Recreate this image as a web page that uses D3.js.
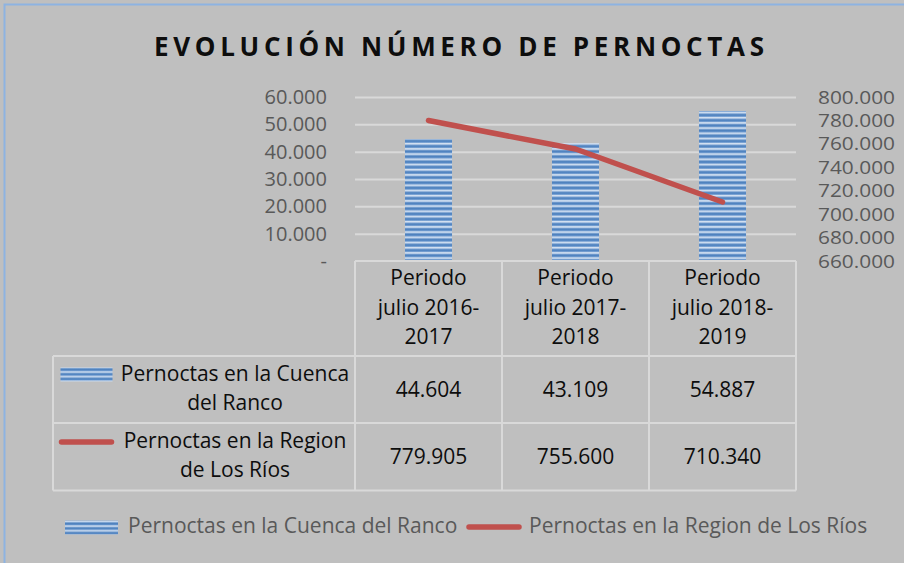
<!DOCTYPE html>
<html>
<head>
<meta charset="utf-8">
<script src="https://cdn.jsdelivr.net/npm/d3@7"></script>
<style>
  html, body { margin: 0; padding: 0; background: #bfbfbf; }
  svg { display: block; font-family: "Open Sans", "Noto Sans", sans-serif; }
</style>
</head>
<body>
<svg id="chart" width="904" height="563"></svg>
<script>
// chart data
const periods = [
  ['Periodo', 'julio 2016-', '2017'],
  ['Periodo', 'julio 2017-', '2018'],
  ['Periodo', 'julio 2018-', '2019']
];
const cuenca = [44604, 43109, 54887];
const region = [779905, 755600, 710340];
const seriesNames = ['Pernoctas en la Cuenca del Ranco', 'Pernoctas en la Region de Los Ríos'];
const rowLabels = [
  ['Pernoctas en la Cuenca', 'del Ranco'],
  ['Pernoctas en la Region', 'de Los Ríos']
];
const leftTicks = [0, 10000, 20000, 30000, 40000, 50000, 60000];
const rightTicks = [660000, 680000, 700000, 720000, 740000, 760000, 780000, 800000];

const svg = d3.select('#chart');
const W = 904, H = 563;
const red = '#c0504d', grid = '#d9d9d9', axisText = '#595959';

const es = d3.formatLocale({decimal: ',', thousands: '.', grouping: [3], currency: ['$', '']});
const fmt = es.format(',.0f');
const fmtTick = d => d === 0 ? '-' : fmt(d);

// plot frame
const plot = {left: 355, right: 796, top: 97, bottom: 261};

svg.append('rect').attr('width', W).attr('height', H).attr('fill', '#bfbfbf');
svg.append('rect')
  .attr('x', 4.5).attr('y', 4.5).attr('width', 1200).attr('height', 1200)
  .attr('fill', 'none').attr('stroke', '#8db3e2').attr('stroke-width', 2);

// striped fill for the bars
const defs = svg.append('defs');
const grad = defs.append('linearGradient')
  .attr('id', 'stripeGrad').attr('x1', 0).attr('y1', 0).attr('x2', 0).attr('y2', 1);
[[0, '#4a7ebb'], [0.35, '#5b8cc8'], [0.62, '#e6eef8'], [0.82, '#9dbbe0'], [1, '#4a7ebb']]
  .forEach(s => grad.append('stop').attr('offset', s[0]).attr('stop-color', s[1]));
const pat = defs.append('pattern')
  .attr('id', 'stripes').attr('patternUnits', 'userSpaceOnUse')
  .attr('width', 10).attr('height', 5.2);
pat.append('rect').attr('width', 10).attr('height', 5.2).attr('fill', 'url(#stripeGrad)');
const kpat = defs.append('pattern')
  .attr('id', 'keyStripes').attr('patternUnits', 'userSpaceOnUse')
  .attr('width', 10).attr('height', 4.67);
kpat.append('rect').attr('width', 10).attr('height', 4.67).attr('fill', 'url(#stripeGrad)');

// scales
const x = d3.scaleBand().domain(d3.range(periods.length)).range([plot.left, plot.right]);
const yL = d3.scaleLinear().domain([0, 60000]).range([plot.bottom, plot.top]);
const yR = d3.scaleLinear().domain([660000, 800000]).range([plot.bottom, plot.top]);

// title
svg.append('text')
  .attr('x', 154).attr('y', 56)
  .attr('textLength', 610).attr('lengthAdjust', 'spacing')
  .attr('font-size', 26).attr('font-weight', 700).attr('fill', '#0d0d0d')
  .text('EVOLUCIÓN NÚMERO DE PERNOCTAS');

// gridlines
svg.append('g')
  .attr('transform', `translate(${plot.left},0)`)
  .call(d3.axisLeft(yL).tickValues(leftTicks.slice(1)).tickSize(-(plot.right - plot.left)).tickFormat(''))
  .call(g => g.select('.domain').remove())
  .call(g => g.selectAll('line').attr('stroke', grid).attr('stroke-width', 2));

// left axis labels
svg.append('g')
  .attr('transform', 'translate(327,0)')
  .call(d3.axisLeft(yL).tickValues(leftTicks).tickSize(0).tickPadding(0).tickFormat(fmtTick))
  .call(g => g.select('.domain').remove())
  .call(g => g.selectAll('text')
    .attr('font-family', '"Open Sans", sans-serif').attr('font-size', 20).attr('fill', axisText));

// right axis labels (tightly packed, as in the original)
svg.append('g')
  .attr('transform', 'translate(818,0)')
  .call(d3.axisRight(yR).tickValues(rightTicks).tickSize(0).tickPadding(0).tickFormat(fmt))
  .call(g => g.select('.domain').remove())
  .call(g => g.selectAll('text')
    .attr('font-family', '"Open Sans", sans-serif').attr('font-size', 19)
    .attr('textLength', 77).attr('lengthAdjust', 'spacingAndGlyphs')
    .attr('fill', axisText));

// bars
const barW = x.bandwidth() * 0.32;
svg.append('g').selectAll('rect')
  .data(cuenca)
  .join('rect')
  .attr('x', (d, i) => x(i) + x.bandwidth() / 2 - barW / 2)
  .attr('y', d => yL(d))
  .attr('width', barW)
  .attr('height', d => yL(0) - yL(d))
  .attr('fill', 'url(#stripes)');

// line
const line = d3.line()
  .x((d, i) => x(i) + x.bandwidth() / 2)
  .y(d => yR(d));
svg.append('path')
  .datum(region)
  .attr('d', line)
  .attr('fill', 'none')
  .attr('stroke', red)
  .attr('stroke-width', 5.5)
  .attr('stroke-linecap', 'round')
  .attr('stroke-linejoin', 'round');

// data table
const rowY = [plot.bottom, 356, 423, 490.5];
const tableLeft = 53;
const tbl = svg.append('g').attr('stroke', grid).attr('stroke-width', 2).attr('fill', 'none');
tbl.append('line').attr('x1', plot.left).attr('x2', plot.right).attr('y1', rowY[0]).attr('y2', rowY[0]);
x.domain().concat([periods.length]).forEach(i => {
  const xx = i < periods.length ? x(i) : plot.right;
  tbl.append('line').attr('x1', xx).attr('x2', xx).attr('y1', rowY[0]).attr('y2', rowY[3]);
});
[1, 2, 3].forEach(r => {
  tbl.append('line').attr('x1', tableLeft).attr('x2', plot.right).attr('y1', rowY[r]).attr('y2', rowY[r]);
});
tbl.append('line').attr('x1', tableLeft).attr('x2', tableLeft).attr('y1', rowY[1]).attr('y2', rowY[3]);

const txt = svg.append('g').attr('font-size', 21).attr('fill', '#0d0d0d').attr('text-anchor', 'middle');
// header labels
periods.forEach((lines, i) => {
  lines.forEach((s, k) => {
    txt.append('text')
      .attr('x', x(i) + x.bandwidth() / 2)
      .attr('y', 285 + k * 29.5)
      .text(s);
  });
});
// values
[cuenca, region].forEach((vals, r) => {
  vals.forEach((v, i) => {
    txt.append('text')
      .attr('x', x(i) + x.bandwidth() / 2)
      .attr('y', (rowY[r + 1] + rowY[r + 2]) / 2 + 7)
      .text(fmt(v));
  });
});
// row labels
rowLabels.forEach((lines, r) => {
  const top = rowY[r + 1];
  lines.forEach((s, k) => {
    txt.append('text')
      .attr('x', 235)
      .attr('y', top + 25 + k * 29)
      .text(s);
  });
});

function blueKey(g, x0, x1, cy) {
  g.append('rect')
    .attr('x', x0).attr('y', cy - 7).attr('width', x1 - x0).attr('height', 14)
    .attr('fill', 'url(#keyStripes)');
}

const keys = svg.append('g');
blueKey(keys, 60.5, 112.5, 374.5);
keys.append('line')
  .attr('x1', 61.5).attr('x2', 111.5).attr('y1', 442).attr('y2', 442)
  .attr('stroke', red).attr('stroke-width', 5.5).attr('stroke-linecap', 'round');

// legend
const leg = svg.append('g').attr('font-size', 21).attr('fill', axisText);
blueKey(leg, 65, 118, 527.5);
leg.append('text').attr('x', 128).attr('y', 533).text(seriesNames[0]);
leg.append('line')
  .attr('x1', 469).attr('x2', 519).attr('y1', 527).attr('y2', 527)
  .attr('stroke', red).attr('stroke-width', 5.5).attr('stroke-linecap', 'round');
leg.append('text').attr('x', 529).attr('y', 533).text(seriesNames[1]);
</script>
</body>
</html>
